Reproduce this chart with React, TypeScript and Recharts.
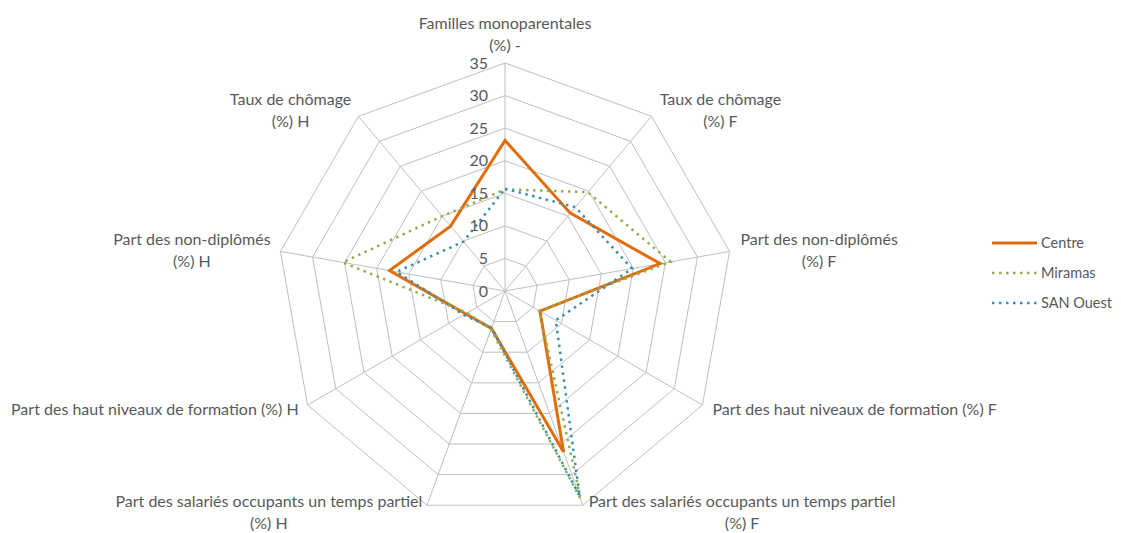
import React from "react";
import { RadarChart, Radar, PolarGrid, PolarAngleAxis, PolarRadiusAxis, Legend } from "recharts";

const categories: string[] = [
  "Familles monoparentales\n(%) -",
  "Taux de chômage\n(%) F",
  "Part des non-diplômés\n(%) F",
  "Part des haut niveaux de formation (%) F",
  "Part des salariés occupants un temps partiel\n(%) F",
  "Part des salariés occupants un temps partiel\n(%) H",
  "Part des haut niveaux de formation (%) H",
  "Part des non-diplômés\n(%) H",
  "Taux de chômage\n(%) H",
];

const centre: number[] = [23.1, 15.6, 24.2, 6.2, 26.3, 6.1, 7.0, 18.0, 13.0];
const miramas: number[] = [15.6, 19.8, 25.8, 6.1, 34.0, 6.3, 6.7, 25.3, 15.0];
const sanOuest: number[] = [15.7, 16.8, 19.8, 9.0, 33.5, 6.0, 7.3, 16.9, 9.9];

const radiusTicks: number[] = [0, 5, 10, 15, 20, 25, 30, 35];

const FONT = "Lato, 'Open Sans', sans-serif";
const FONT_SIZE = 16;
const TEXT = "#595959";

const series = [
  { key: "centre", name: "Centre", color: "#E36C0A", width: 3, dash: undefined as string | undefined },
  { key: "miramas", name: "Miramas", color: "#8FAE52", width: 2.5, dash: "2.5 4.5" },
  { key: "sanOuest", name: "SAN Ouest", color: "#3A8FAE", width: 2.5, dash: "2.5 4.5" },
];

const data = categories.map((axis, i) => ({
  axis,
  centre: centre[i],
  miramas: miramas[i],
  sanOuest: sanOuest[i],
}));

let ctx: CanvasRenderingContext2D | null = null;
const measure = (s: string) => {
  if (!ctx) ctx = document.createElement("canvas").getContext("2d");
  if (!ctx) return s.length * 7.4;
  ctx.font = `${FONT_SIZE}px Lato`;
  return ctx.measureText(s).width;
};

const AngleTick = (props: any) => {
  const { x, y, textAnchor, payload } = props;
  const lines = String(payload.value).split("\n");
  const w = Math.max(...lines.map(measure));
  const lh = 22;
  let tx = x;
  if (textAnchor === "start") tx = x + 3 + w / 2;
  else if (textAnchor === "end") tx = x - 2 - w / 2;
  let first: number;
  if (textAnchor === "middle") first = y - 10 - (lines.length - 1) * lh;
  else first = y - ((lines.length - 1) * lh) / 2;
  return (
    <text textAnchor="middle" fill={TEXT} fontSize={FONT_SIZE} fontFamily={FONT}>
      {lines.map((l, i) => (
        <tspan key={i} x={tx} y={first + i * lh + 5.5}>
          {l}
        </tspan>
      ))}
    </text>
  );
};

const RadiusTick = (props: any) => {
  const { x, y, payload } = props;
  return (
    <text x={x - 17} y={y + 5.5} textAnchor="end" fill={TEXT} fontSize={FONT_SIZE} fontFamily={FONT}>
      {payload.value}
    </text>
  );
};

// legend drawn by hand so the dotted samples look like Excel's
const renderLegend = () => (
  <svg width={130} height={95} style={{ overflow: "visible" }}>
    {series.map((s, i) => (
      <g key={s.key}>
        <line
          x1={6}
          x2={51}
          y1={15 + i * 30}
          y2={15 + i * 30}
          stroke={s.color}
          strokeWidth={s.width}
          strokeDasharray={s.dash}
        />
        <text x={55} y={15 + i * 30 + 5} fill={TEXT} fontSize={14.5} fontFamily={FONT}>
          {s.name}
        </text>
      </g>
    ))}
  </svg>
);

export default function App() {
  return (
    <RadarChart width={1113} height={525} data={data} cx={497} cy={283} outerRadius={228} startAngle={90} endAngle={-270}>
      <PolarGrid gridType="polygon" stroke="#BFBFBF" strokeWidth={1} />
      <PolarAngleAxis dataKey="axis" tick={AngleTick} tickLine={false} axisLine={false} />
      <PolarRadiusAxis
        angle={90}
        type="number"
        domain={[0, 35]}
        ticks={radiusTicks as any}
        tickCount={8}
        axisLine={false}
        tick={RadiusTick}
      />
      {series.map((s) => (
        <Radar
          key={s.key}
          name={s.name}
          dataKey={s.key}
          stroke={s.color}
          strokeWidth={s.width}
          strokeDasharray={s.dash}
          fill="none"
          fillOpacity={0}
          dot={false}
          isAnimationActive={false}
        />
      ))}
      <Legend content={renderLegend} wrapperStyle={{ position: "absolute", left: 978, top: 220, width: 130 }} />
    </RadarChart>
  );
}
